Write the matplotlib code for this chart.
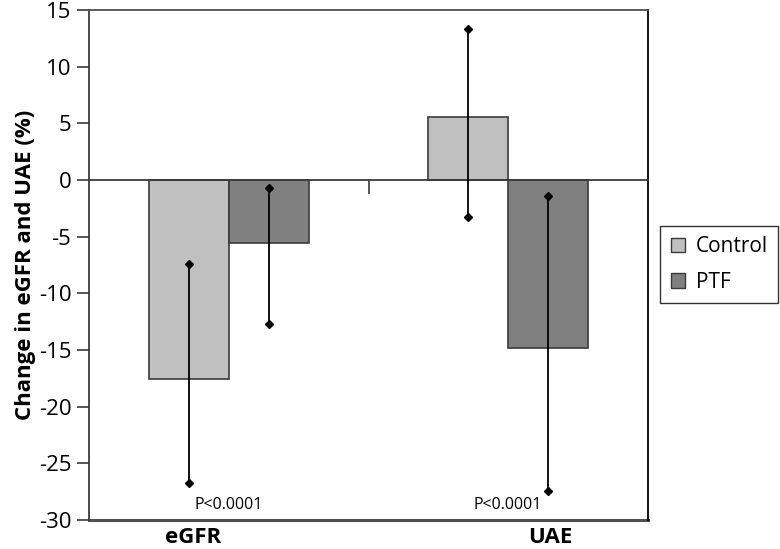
import matplotlib
matplotlib.use("Agg")
import matplotlib.pyplot as plt
import numpy as np
from matplotlib.patches import Patch

plt.rcParams["axes.unicode_minus"] = False

categories = ["eGFR", "UAE"]
groups = ["Control", "PTF"]
control_mean = [-17.6, 5.6]
ptf_mean = [-5.6, -14.8]
control_low = [-26.7, -3.3]
control_high = [-7.4, 13.3]
ptf_low = [-12.7, -27.4]
ptf_high = [-0.7, -1.4]
p_labels = ["P<0.0001", "P<0.0001"]
cat_label_offset = [-0.13, 0.15]

colors = {"Control": "#c0c0c0", "PTF": "#808080"}
edge = "#3a3a3a"
font = "Open Sans"

fig = plt.figure(figsize=(7.8, 5.49), dpi=100)
ax = fig.add_axes([0.1145, 0.0528, 0.7160, 0.9290])

x = np.arange(len(categories))
w = 0.287
means = {"Control": control_mean, "PTF": ptf_mean}
lows = {"Control": control_low, "PTF": ptf_low}
highs = {"Control": control_high, "PTF": ptf_high}
offsets = {"Control": -w / 2, "PTF": w / 2}

for g in groups:
    xs = x + offsets[g]
    ax.bar(xs, means[g], width=w, color=colors[g], edgecolor=edge,
           linewidth=1.2, zorder=2)
    ax.vlines(xs, lows[g], highs[g], color="black", linewidth=1.3, zorder=3)
    ax.plot(xs, lows[g], "D", color="black", markersize=4.5, zorder=4)
    ax.plot(xs, highs[g], "D", color="black", markersize=4.5, zorder=4)

ax.set_xlim(-0.5, 1.5)
ax.set_ylim(-30, 15)
ax.set_yticks(np.arange(-30, 16, 5))
ax.tick_params(axis="y", direction="out", length=9, width=1.2, color=edge,
               pad=4, labelsize=16)
for lab in ax.get_yticklabels():
    lab.set_family(font)

# category axis crosses at zero
ax.spines["bottom"].set_position(("data", 0))
ax.spines["bottom"].set_zorder(2.5)
ax.set_xticks([0.5])
ax.set_xticklabels([""])
ax.tick_params(axis="x", direction="out", length=10, width=1.2, color=edge)
ax.axhline(-30, color="#505050", linewidth=2.2, clip_on=False)
for s in ["left", "top", "right", "bottom"]:
    ax.spines[s].set_linewidth(1.3)
ax.spines["left"].set_color(edge)
ax.spines["top"].set_color("#505050")
ax.spines["right"].set_color("black")
ax.spines["bottom"].set_color(edge)

for xi, p in zip(x, p_labels):
    ax.text(xi, -28.7, p, ha="center", va="center", fontsize=11.5, family=font)

for xi, c, off in zip(x, categories, cat_label_offset):
    ax.text(xi + off, -31.5, c, ha="center", va="center", fontsize=16,
            fontweight="bold", family=font, clip_on=False)

ax.set_ylabel("Change in eGFR and UAE (%)", fontsize=16, fontweight="bold",
              family=font, labelpad=2)

handles = [Patch(facecolor=colors[g], edgecolor=edge, linewidth=1.0) for g in groups]
leg = fig.legend(handles, groups, loc="center", bbox_to_anchor=(0.922, 0.518),
                 frameon=True, fancybox=False, edgecolor="black",
                 prop={"family": font, "size": 15}, handlelength=0.7,
                 handleheight=0.7, handletextpad=0.5, labelspacing=0.7,
                 borderpad=0.5, borderaxespad=0)
leg.get_frame().set_linewidth(1.0)

fig.savefig("out.png", dpi=100)
